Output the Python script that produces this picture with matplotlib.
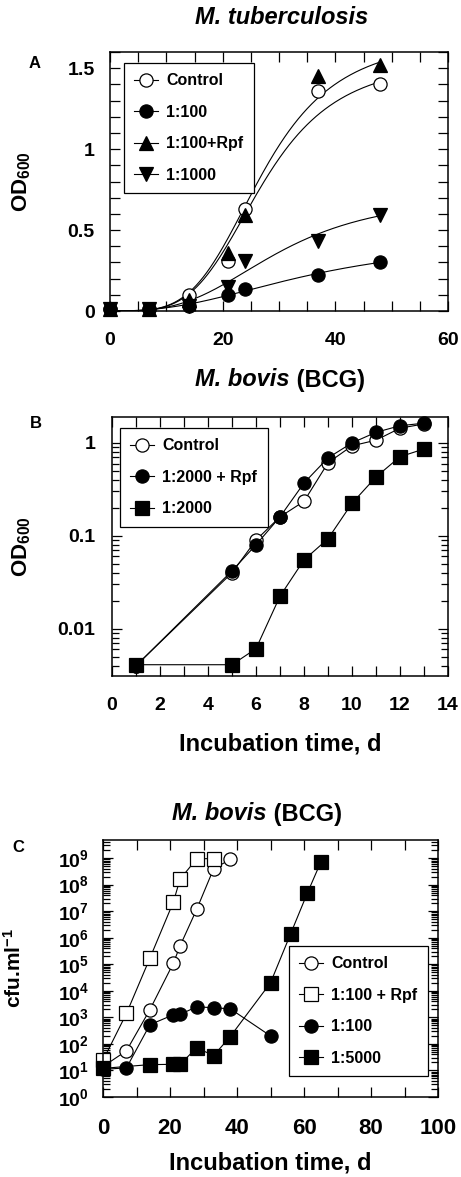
import numpy as np
import matplotlib
matplotlib.use('Agg')
import matplotlib.pyplot as plt
from matplotlib.lines import Line2D
from matplotlib.ticker import MultipleLocator, LogLocator, NullFormatter, FuncFormatter

plt.rcParams['font.family'] = ['Liberation Sans', 'DejaVu Sans']
plt.rcParams['font.weight'] = 'bold'
plt.rcParams['mathtext.fontset'] = 'custom'
plt.rcParams['mathtext.rm'] = 'Liberation Sans:bold'
plt.rcParams['mathtext.bf'] = 'Liberation Sans:bold'
plt.rcParams['mathtext.it'] = 'Liberation Sans:bold:italic'
plt.rcParams['mathtext.default'] = 'rm'

# --- A: M. tuberculosis, OD600 ---
a_days = [0, 7, 14, 21, 24, 37, 48]
a_control = [0.01, 0.01, 0.10, 0.31, 0.63, 1.36, 1.40]
a_100 = [0.01, 0.01, 0.03, 0.10, 0.135, 0.225, 0.30]
a_100_rpf = [0.01, 0.01, 0.07, 0.36, 0.59, 1.45, 1.52]
a_1000 = [0.01, 0.01, 0.03, 0.15, 0.31, 0.43, 0.595]
# weight of each point in the curve fit (last reading held tight)
a_fit_weights = [1, 1, 1, 1, 1, 1, 6]

# --- B: M. bovis (BCG), OD600 ---
b_days = [1, 5, 6, 7, 8, 9, 10, 11, 12, 13]
b_control = [0.004, 0.040, 0.090, 0.16, 0.235, 0.61, 0.93, 1.07, 1.44, 1.6]
b_2000_rpf = [0.004, 0.042, 0.080, 0.16, 0.37, 0.69, 1.0, 1.3, 1.53, 1.63]
b_2000 = [0.0041, 0.0041, 0.0061, 0.0224, 0.055, 0.093, 0.224, 0.43, 0.71, 0.86]

# --- C: M. bovis (BCG), cfu/ml ---
c_control_days = [0, 7, 14, 21, 23, 28, 33, 38]
c_control = [14, 55, 1950, 1.1e5, 4.9e5, 1.2e7, 3.9e8, 9e8]
c_rpf_days = [0, 7, 14, 21, 23, 28, 33]
c_rpf = [24, 1400, 1.7e5, 2.2e7, 1.6e8, 9.5e8, 9.5e8]
c_100_days = [0, 7, 14, 21, 23, 28, 33, 38, 50]
c_100 = [11, 12.5, 530, 1250, 1300, 2500, 2300, 2100, 200]
c_5000_days = [0, 14, 21, 23, 28, 33, 38, 50, 56, 61, 65]
c_5000 = [12, 16.6, 17, 17, 72, 36, 190, 2e4, 1.4e6, 4.8e7, 7e8]


def hill_fit(x, y, w):
    # weighted least squares of y = a*x^n/(c^n + x^n), by grid search (n <= 4)
    x = np.asarray(x, float)
    y = np.asarray(y, float)
    w = np.asarray(w, float)
    a = np.linspace(y.max() * 0.9, y.max() * 3.0, 60)
    c = np.linspace(10, 120, 111)
    n = np.linspace(1, 4, 31)
    A, C, N = np.meshgrid(a, c, n, indexing='ij')
    xn = x ** N[..., None]
    pred = A[..., None] * xn / (C[..., None] ** N[..., None] + xn)
    err = (w * (pred - y) ** 2).sum(axis=-1)
    i = np.unravel_index(err.argmin(), err.shape)
    return A[i], C[i], N[i]


LW = 0.8
MS = 9.5
MEW = 0.9


def style_ax(ax, xsize=14):
    for s in ax.spines.values():
        s.set_linewidth(1.1)
    ax.tick_params(which='both', direction='in', top=True, right=True, width=0.9)
    ax.tick_params(which='major', length=7)
    ax.tick_params(which='minor', length=7)
    ax.tick_params(axis='y', which='major', labelsize=14, pad=12)
    ax.tick_params(axis='x', which='major', labelsize=xsize, pad=15)


def handle(marker, face):
    return Line2D([], [], color='k', lw=LW, marker=marker, markersize=MS,
                  markerfacecolor=face, markeredgecolor='k', markeredgewidth=MEW)


def put_legend(ax, handles, labels, anchor):
    leg = ax.legend(handles, labels, loc='upper left', bbox_to_anchor=anchor,
                    borderaxespad=0, fontsize=11.5, handlelength=1.5,
                    handletextpad=0.5, labelspacing=1.03, borderpad=0.65,
                    fancybox=False, framealpha=1)
    leg.get_frame().set_edgecolor('k')
    leg.get_frame().set_linewidth(0.9)


W, H = 461, 1177
fig = plt.figure(figsize=(W / 100, H / 100), dpi=100)
renderer = fig.canvas.get_renderer()


def bovis_title(xc, yc):
    t1 = fig.text(0, 1 - yc / H, 'M. bovis', fontsize=17, fontweight='bold',
                  fontstyle='italic', va='center')
    t2 = fig.text(0, 1 - yc / H, ' (BCG)', fontsize=17, fontweight='bold', va='center')
    w1 = t1.get_window_extent(renderer).width
    w2 = t2.get_window_extent(renderer).width
    x0 = xc - (w1 + w2) / 2
    t1.set_x(x0 / W)
    t2.set_x((x0 + w1) / W)


# ---------------- panel A ----------------
axA = fig.add_axes([110 / W, 1 - 311 / H, 338 / W, 259 / H])
xs = np.linspace(0, 48, 300)
series_a = [(a_control, 'o', 'white'), (a_100, 'o', 'k'),
            (a_100_rpf, '^', 'k'), (a_1000, 'v', 'k')]
for vals, m, fc in series_a:
    A_, C_, N_ = hill_fit(a_days, vals, a_fit_weights)
    axA.plot(xs, A_ * xs ** N_ / (C_ ** N_ + xs ** N_), color='k', lw=LW)
for vals, m, fc in series_a:
    axA.plot(a_days, vals, ls='none', marker=m, markersize=MS, markerfacecolor=fc,
             markeredgecolor='k', markeredgewidth=MEW, clip_on=False, zorder=3)
axA.set_xlim(0, 60)
axA.set_ylim(0, 1.6)
axA.xaxis.set_major_locator(MultipleLocator(20))
axA.xaxis.set_minor_locator(MultipleLocator(5))
axA.yaxis.set_major_locator(MultipleLocator(0.5))
axA.yaxis.set_minor_locator(MultipleLocator(0.1))
axA.yaxis.set_major_formatter(FuncFormatter(lambda v, p: '%g' % round(v, 2)))
style_ax(axA)
axA.tick_params(axis='y', which='major', pad=11)
axA.set_ylabel('OD$_{600}$', fontsize=16, fontweight='bold')
axA.yaxis.set_label_coords(-0.228, 0.5)
put_legend(axA, [handle(m, fc) for _, m, fc in series_a],
           ['Control', '1:100', '1:100+Rpf', '1:1000'], (0.041, 0.958))
fig.text(282 / W, 1 - 18 / H, 'M. tuberculosis', fontsize=17, fontweight='bold',
         fontstyle='italic', ha='center', va='center')
fig.text(35 / W, 1 - 63 / H, 'A', fontsize=12, fontweight='bold', ha='center', va='center')

# ---------------- panel B ----------------
axB = fig.add_axes([112 / W, 1 - 676 / H, 336 / W, 259 / H])
series_b = [(b_control, 'o', 'white'), (b_2000_rpf, 'o', 'k'), (b_2000, 's', 'k')]
for vals, m, fc in series_b:
    axB.plot(b_days, vals, color='k', lw=LW, marker=m, markersize=MS, markerfacecolor=fc,
             markeredgecolor='k', markeredgewidth=MEW, clip_on=False)
axB.set_yscale('log')
axB.set_xlim(0, 14)
axB.set_ylim(0.0031, 1.9)
axB.xaxis.set_major_locator(MultipleLocator(2))
axB.xaxis.set_minor_locator(MultipleLocator(1))
axB.yaxis.set_major_locator(LogLocator(base=10, numticks=10))
axB.yaxis.set_minor_locator(LogLocator(base=10, subs=np.arange(2, 10), numticks=50))
axB.yaxis.set_minor_formatter(NullFormatter())
axB.yaxis.set_major_formatter(FuncFormatter(lambda v, p: '%g' % v))
style_ax(axB)
axB.tick_params(axis='y', which='minor', length=5)
axB.set_ylabel('OD$_{600}$', fontsize=16, fontweight='bold')
axB.yaxis.set_label_coords(-0.235, 0.5)
axB.set_xlabel('Incubation time, d', fontsize=17, fontweight='bold', va='top')
axB.xaxis.set_label_coords(0.5, -0.218)
put_legend(axB, [handle(m, fc) for _, m, fc in series_b],
           ['Control', '1:2000 + Rpf', '1:2000'], (0.024, 0.958))
bovis_title(280, 380)
fig.text(36 / W, 1 - 423 / H, 'B', fontsize=12, fontweight='bold', ha='center', va='center')

# ---------------- panel C ----------------
axC = fig.add_axes([103 / W, 1 - 1097 / H, 335 / W, 257 / H])
series_c = [(c_control_days, c_control, 'o', 'white'), (c_rpf_days, c_rpf, 's', 'white'),
            (c_100_days, c_100, 'o', 'k'), (c_5000_days, c_5000, 's', 'k')]
for d, vals, m, fc in series_c:
    axC.plot(d, vals, color='k', lw=LW, marker=m, markersize=MS, markerfacecolor=fc,
             markeredgecolor='k', markeredgewidth=MEW, clip_on=False)
axC.set_yscale('log')
axC.set_xlim(0, 100)
axC.set_ylim(1, 4.8e9)
axC.xaxis.set_major_locator(MultipleLocator(20))
axC.xaxis.set_minor_locator(MultipleLocator(10))
axC.yaxis.set_major_locator(LogLocator(base=10, numticks=20))
axC.yaxis.set_minor_locator(LogLocator(base=10, subs=np.arange(2, 10), numticks=200))
axC.yaxis.set_minor_formatter(NullFormatter())
axC.yaxis.set_major_formatter(FuncFormatter(lambda v, p: '10$^{%d}$' % int(round(np.log10(v)))))
style_ax(axC, xsize=16)
axC.tick_params(axis='y', which='minor', length=5)
axC.tick_params(axis='y', which='major', pad=10)
axC.set_ylabel('cfu.ml$^{-1}$', fontsize=15, fontweight='bold')
axC.yaxis.set_label_coords(-0.233, 0.5)
axC.set_xlabel('Incubation time, d', fontsize=17, fontweight='bold', va='top')
axC.xaxis.set_label_coords(0.5, -0.214)
put_legend(axC, [handle(m, fc) for _, _, m, fc in series_c],
           ['Control', '1:100 + Rpf', '1:100', '1:5000'], (0.555, 0.588))
bovis_title(257, 814)
fig.text(18 / W, 1 - 847 / H, 'C', fontsize=12, fontweight='bold', ha='center', va='center')

fig.savefig('out.png', dpi=100)
